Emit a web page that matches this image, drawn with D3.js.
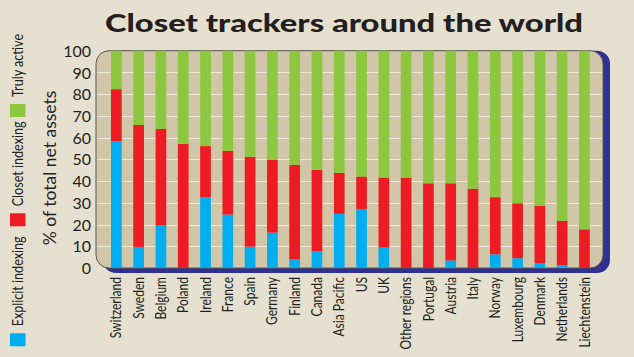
<!DOCTYPE html>
<html><head><meta charset="utf-8">
<script src="https://cdn.jsdelivr.net/npm/d3@7"></script>
<style>
html,body{margin:0;padding:0;background:#e6e0d0;}
svg{display:block;}
text{font-family:Lato,"Open Sans",sans-serif;fill:#231f20;}
</style></head>
<body><svg id="c" width="634" height="357"></svg>
<script>
const categories = ["Switzerland","Sweden","Belgium","Poland","Ireland","France","Spain","Germany","Finland","Canada","Asia Pacific","US","UK","Other regions","Portugal","Austria","Italy","Norway","Luxembourg","Denmark","Netherlands","Liechtenstein"];
const explicitIndexing = [58.3, 9.7, 19.8, 0, 32.6, 24.6, 9.8, 16.3, 4.0, 7.8, 24.9, 27.2, 9.4, 0, 0, 3.5, 0, 6.3, 4.5, 2.3, 1.2, 0];
const closetIndexing   = [24.0, 56.1, 44.2, 57.1, 23.5, 29.3, 41.4, 33.6, 43.5, 37.4, 18.9, 14.9, 32.2, 41.6, 39.0, 35.5, 36.5, 26.3, 25.3, 26.4, 20.5, 17.8];
const trulyActive      = [17.7, 34.2, 36.0, 42.9, 43.9, 46.1, 48.8, 50.1, 52.5, 54.8, 56.2, 57.9, 58.4, 58.4, 61.0, 61.0, 63.5, 67.4, 70.2, 71.3, 78.3, 82.2];
const yTicks = [0,10,20,30,40,50,60,70,80,90,100];
const seriesNames = ["Explicit indexing","Closet indexing","Truly active"];
const colors = ["#00aeef","#ed1c24","#8dc63f"];

const svg = d3.select("#c");
const P = {l:96, r:603, t:50.7, b:268};

const x = d3.scaleBand().domain(categories).range([99.85, 600.95]).paddingInner(0.52).paddingOuter(0.5);
const y = d3.scaleLinear().domain([0,100]).range([P.b, P.t]);

// title
svg.append("text").attr("x",105).attr("y",32)
  .style("font-size","24.5px").style("font-weight","900")
  .attr("textLength",478).attr("lengthAdjust","spacingAndGlyphs")
  .text("Closet trackers around the world");

// shadow + panel
svg.append("rect").attr("x",P.l+7).attr("y",P.t).attr("width",P.r-P.l).attr("height",P.b-P.t+5)
  .attr("rx",13).attr("fill","#2e3192");
svg.append("rect").attr("x",P.l).attr("y",P.t).attr("width",P.r-P.l).attr("height",P.b-P.t)
  .attr("rx",13).attr("fill","#d1c7a8").attr("stroke","#5a5650").attr("stroke-width",1);

// gridlines
svg.append("g").selectAll("line").data(yTicks.filter(d=>d>0&&d<100)).join("line")
  .attr("x1",P.l+1).attr("x2",P.r-1).attr("y1",d=>Math.round(y(d))+0.5).attr("y2",d=>Math.round(y(d))+0.5)
  .attr("stroke","#ede8da").attr("stroke-width",1);

// stacked bars
const rows = categories.map((c,i)=>({cat:c, a:explicitIndexing[i], b:closetIndexing[i], c:trulyActive[i]}));
const stack = d3.stack().keys(["a","b","c"])(rows);
svg.append("g").selectAll("g").data(stack).join("g").attr("fill",(d,i)=>colors[i])
  .selectAll("rect").data(d=>d).join("rect")
  .attr("x",d=>x(d.data.cat)).attr("width",x.bandwidth())
  .attr("y",d=>y(d[1])).attr("height",d=>Math.max(0,y(d[0])-y(d[1])));

// y axis labels
const yAxis = d3.axisLeft(y).tickValues(yTicks).tickSize(0).tickPadding(0);
const ga = svg.append("g").attr("transform","translate(91,0)").call(yAxis);
ga.select(".domain").remove();
ga.selectAll("text").style("font-size","16px").style("font-family","Lato,sans-serif").attr("fill","#231f20").attr("dy","0.35em");

// y axis title
svg.append("text").attr("transform","translate(56,168) rotate(-90)").attr("text-anchor","middle")
  .style("font-size","17.5px").text("% of total net assets");

// x axis labels
const xAxis = d3.axisBottom(x).tickSize(0).tickPadding(0);
const gx = svg.append("g").attr("transform","translate(0,277)").call(xAxis);
gx.select(".domain").remove();
gx.selectAll("text").attr("transform","rotate(-90) scale(0.83,1)").attr("text-anchor","end")
  .attr("x",0).attr("y",0).attr("dx",0).attr("dy","0.35em")
  .style("font-size","14.5px").style("font-family","Lato,sans-serif").attr("fill","#231f20");

// legend (vertical)
const legTop = [333.3, 213.3, 104];
const leg = svg.append("g");
seriesNames.forEach((n,i)=>{
  leg.append("rect").attr("x",10).attr("y",legTop[i]).attr("width",15.5).attr("height",13).attr("fill",colors[i]);
  leg.append("text").attr("transform",`translate(23,${legTop[i]-7}) rotate(-90) scale(0.84,1)`)
    .style("font-size","15px").text(n);
});
</script></body></html>
